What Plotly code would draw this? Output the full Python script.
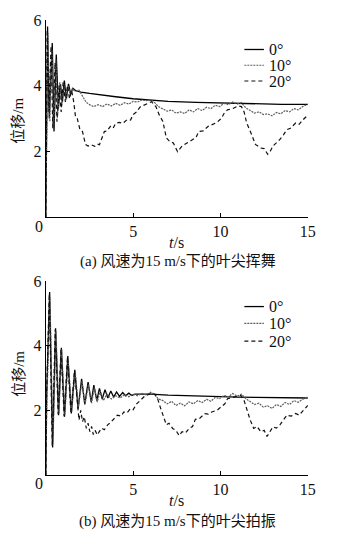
import plotly.graph_objects as go

# ---------------- data ----------------
SERIES_NAMES = ["0°", "10°", "20°"]
X_TICKS = [5, 10, 15]
Y_TICKS = [2, 4, 6]

# (a) tip flap-wise ("挥舞") displacement, wind speed 15 m/s
T_A0 = [0, 0.1, 0.2, 0.37, 0.47, 0.6, 0.72, 0.84, 0.95, 1.06,
        1.18, 1.3, 1.42, 1.55, 1.7, 2.0, 2.5, 3.0, 4.0, 5.0,
        6.0, 7.0, 8.6, 10.0, 12.0, 13.5, 15.0]
Y_A0 = [0, 5.8, 3.0, 5.3, 2.6, 4.95, 3.3, 4.05, 3.5, 4.15,
        3.6, 4.05, 3.75, 3.92, 3.85, 3.8, 3.76, 3.72, 3.66, 3.6,
        3.55, 3.52, 3.49, 3.47, 3.45, 3.43, 3.43]

T_A10 = [0, 0.12, 0.23, 0.34, 0.45, 0.57, 0.68, 0.8, 0.92, 1.03,
         1.15, 1.27, 1.4, 1.52, 1.7, 1.9, 2.1, 2.3, 2.5, 2.75,
         3.0, 3.25, 3.5, 3.75, 4.0, 4.25, 4.5, 4.75, 5.0, 5.25,
         5.5, 5.75, 6.0, 6.2, 6.45, 6.7, 6.95, 7.2, 7.45, 7.7,
         7.95, 8.2, 8.45, 8.7, 8.95, 9.2, 9.45, 9.7, 9.95, 10.2,
         10.45, 10.7, 10.95, 11.2, 11.45, 11.7, 11.95, 12.2, 12.45, 12.7,
         12.95, 13.2, 13.45, 13.7, 13.95, 14.2, 14.45, 14.7, 15.0]
Y_A10 = [0, 5.6, 2.9, 5.1, 2.8, 4.8, 3.1, 4.1, 3.4, 4.05,
         3.55, 4.0, 3.7, 3.9, 3.82, 3.86, 3.68, 3.5, 3.42, 3.36,
         3.42, 3.36, 3.44, 3.38, 3.46, 3.4, 3.48, 3.44, 3.52, 3.5,
         3.56, 3.54, 3.57, 3.5, 3.36, 3.28, 3.22, 3.26, 3.16, 3.2,
         3.15, 3.26, 3.2, 3.3, 3.24, 3.34, 3.3, 3.4, 3.36, 3.46,
         3.42, 3.5, 3.44, 3.48, 3.32, 3.24, 3.16, 3.2, 3.12, 3.14,
         3.08, 3.18, 3.14, 3.24, 3.2, 3.3, 3.26, 3.36, 3.43]

T_A20 = [0, 0.08, 0.18, 0.3, 0.4, 0.53, 0.64, 0.76, 0.88, 0.99,
         1.12, 1.24, 1.36, 1.48, 1.6, 1.7, 1.8, 1.95, 2.1, 2.27,
         2.42, 2.6, 2.8, 2.95, 3.07, 3.2, 3.35, 3.5, 3.7, 3.85,
         4.0, 4.2, 4.4, 4.65, 4.85, 5.0, 5.2, 5.4, 5.6, 5.8,
         6.05, 6.3, 6.5, 6.7, 6.9, 7.07, 7.3, 7.54, 7.8, 8.0,
         8.2, 8.4, 8.6, 8.75, 9.0, 9.3, 9.5, 9.8, 10.06, 10.2,
         10.4, 10.7, 11.0, 11.2, 11.35, 11.5, 11.75, 12.0, 12.3, 12.5,
         12.7, 12.85, 13.0, 13.2, 13.4, 13.6, 13.8, 14.0, 14.3, 14.5,
         14.7, 15.0]
Y_A20 = [0, 5.7, 3.2, 5.2, 2.7, 4.7, 2.9, 4.0, 3.2, 4.1,
         3.5, 4.0, 3.6, 3.85, 3.5, 3.05, 3.0, 2.67, 2.6, 2.21,
         2.16, 2.2, 2.15, 2.22, 2.2, 2.4, 2.6, 2.62, 2.76, 2.7,
         2.85, 2.88, 2.85, 2.96, 2.95, 3.12, 3.2, 3.35, 3.41, 3.45,
         3.51, 3.36, 3.1, 2.91, 2.41, 2.31, 2.25, 1.99, 2.16, 2.22,
         2.28, 2.36, 2.42, 2.6, 2.62, 2.76, 2.8, 2.88, 3.01, 3.15,
         3.26, 3.3, 3.38, 3.36, 3.2, 2.86, 2.55, 2.21, 2.1, 2.08,
         1.91, 2.0, 2.16, 2.25, 2.36, 2.5, 2.66, 2.7, 2.86, 2.82,
         2.95, 3.1]

# (b) tip edge-wise ("拍振") displacement, wind speed 15 m/s
T_B0 = [0, 0.05, 0.22, 0.39, 0.56, 0.73, 0.89, 1.07, 1.26, 1.46,
        1.66, 1.85, 2.05, 2.23, 2.42, 2.6, 2.75, 2.92, 3.07, 3.23,
        3.39, 3.55, 3.72, 3.88, 4.05, 4.22, 4.4, 4.57, 4.75, 4.92,
        5.1, 6.0, 7.0, 8.0, 9.0, 10.0, 11.0, 12.0, 13.0, 14.0,
        15.0]
Y_B0 = [0, 2.5, 5.66, 0.85, 4.54, 1.85, 3.93, 1.8, 3.68, 1.9,
        3.25, 2.05, 2.97, 2.18, 2.87, 2.25, 2.78, 2.3, 2.68, 2.35,
        2.64, 2.38, 2.6, 2.41, 2.57, 2.43, 2.55, 2.45, 2.53, 2.46,
        2.5, 2.5, 2.47, 2.45, 2.43, 2.42, 2.41, 2.4, 2.39, 2.38,
        2.38]

T_B10 = [0, 0.06, 0.24, 0.41, 0.58, 0.75, 0.91, 1.09, 1.28, 1.48,
         1.68, 1.87, 2.07, 2.25, 2.44, 2.62, 2.78, 2.95, 3.1, 3.3,
         3.5, 3.75, 4.0, 4.25, 4.5, 4.75, 5.0, 5.25, 5.5, 5.75,
         6.0, 6.2, 6.45, 6.7, 6.95, 7.2, 7.45, 7.7, 7.95, 8.2,
         8.45, 8.7, 8.95, 9.2, 9.45, 9.7, 9.95, 10.2, 10.45, 10.7,
         10.95, 11.2, 11.45, 11.7, 11.95, 12.2, 12.45, 12.7, 12.95, 13.2,
         13.45, 13.7, 13.95, 14.2, 14.45, 14.7, 15.0]
Y_B10 = [0, 2.3, 5.5, 0.95, 4.45, 1.9, 3.88, 1.85, 3.6, 1.95,
         3.2, 2.1, 2.9, 2.2, 2.8, 2.22, 2.7, 2.25, 2.6, 2.3,
         2.5, 2.35, 2.45, 2.38, 2.48, 2.42, 2.5, 2.45, 2.52, 2.48,
         2.56, 2.5, 2.35, 2.3, 2.2, 2.28, 2.15, 2.22, 2.14, 2.26,
         2.2, 2.3, 2.24, 2.34, 2.28, 2.4, 2.36, 2.46, 2.42, 2.52,
         2.44, 2.5, 2.36, 2.26, 2.18, 2.22, 2.1, 2.14, 2.06, 2.18,
         2.12, 2.24, 2.18, 2.3, 2.25, 2.34, 2.42]

T_B20 = [0, 0.04, 0.2, 0.37, 0.54, 0.71, 0.87, 1.05, 1.24, 1.44,
         1.64, 1.8, 1.9, 2.0, 2.1, 2.2, 2.32, 2.42, 2.52, 2.62,
         2.72, 2.82, 2.95, 3.07, 3.2, 3.35, 3.54, 3.7, 3.9, 4.1,
         4.3, 4.47, 4.65, 4.84, 5.0, 5.2, 5.4, 5.68, 5.85, 6.05,
         6.25, 6.4, 6.55, 6.7, 6.9, 7.05, 7.26, 7.45, 7.63, 7.8,
         8.0, 8.2, 8.4, 8.56, 8.8, 9.1, 9.3, 9.5, 9.8, 10.06,
         10.25, 10.4, 10.7, 10.9, 11.17, 11.35, 11.54, 11.7, 11.9, 12.1,
         12.3, 12.5, 12.66, 12.85, 13.0, 13.2, 13.4, 13.6, 13.8, 14.05,
         14.3, 14.5, 14.75, 15.0]
Y_B20 = [0, 2.4, 5.6, 0.9, 4.5, 1.88, 3.9, 1.82, 3.64, 1.9,
         3.22, 2.3, 1.7, 2.0, 1.65, 1.8, 1.44, 1.6, 1.34, 1.5,
         1.25, 1.38, 1.24, 1.35, 1.45, 1.4, 1.55, 1.62, 1.75, 1.85,
         1.82, 1.95, 1.92, 2.05, 2.02, 2.2, 2.3, 2.45, 2.48, 2.53,
         2.5, 2.36, 2.1, 1.85, 1.55, 1.6, 1.44, 1.38, 1.22, 1.34,
         1.3, 1.44, 1.5, 1.72, 1.75, 1.9, 1.88, 1.95, 2.0, 2.12,
         2.2, 2.36, 2.4, 2.42, 2.46, 2.3, 1.95, 1.7, 1.44, 1.5,
         1.34, 1.38, 1.19, 1.35, 1.49, 1.45, 1.55, 1.7, 1.85, 1.82,
         1.9, 1.85, 2.0, 2.15]

CAPTIONS = ["(a) 风速为15 m/s下的叶尖挥舞", "(b) 风速为15 m/s下的叶尖拍振"]
Y_TITLE = "位移/m"
X_TITLE = "<i>t</i>/s"

# ---------------- styling ----------------
# the page body has an 8px default margin, so the figure is drawn 8px smaller
# and all window-pixel positions are shifted by that offset
OFF = 8
W, H = 352 - OFF, 540 - OFF
SERIF = "Liberation Serif, Noto Sans CJK SC, serif"
TXT = "#111111"
STYLES = [
    dict(color="#000000", width=1.3, dash="solid"),
    dict(color="#5e5e5e", width=1.2, dash="2px,1px"),
    dict(color="#111111", width=1.2, dash="4px,3px"),
]

def px_x(p):
    return (p - OFF) / W

def px_y(p):
    return 1 - (p - OFF) / H

X_DOM = [px_x(46.7), px_x(315)]
PANELS = [
    dict(ydom=[px_y(212), px_y(12)], xa="x", ya="y",
         data=[(T_A0, Y_A0), (T_A10, Y_A10), (T_A20, Y_A20)],
         xt=238, cap=257, yt=114, zero=222, leg=[42, 58, 74]),
    dict(ydom=[px_y(474), px_y(277)], xa="x2", ya="y2",
         data=[(T_B0, Y_B0), (T_B10, Y_B10), (T_B20, Y_B20)],
         xt=500, cap=521, yt=371, zero=483, leg=[303, 320, 338]),
]

fig = go.Figure()
annotations = []
shapes = []
for pi, p in enumerate(PANELS):
    for si, (t, y) in enumerate(p["data"]):
        fig.add_trace(go.Scatter(
            x=t, y=y, mode="lines", name=SERIES_NAMES[si],
            line=STYLES[si], xaxis=p["xa"], yaxis=p["ya"],
            showlegend=False, hoverinfo="skip"))
    annotations += [
        dict(text=X_TITLE, x=px_x(181), y=px_y(p["xt"]), xref="paper", yref="paper",
             showarrow=False, xanchor="center", yanchor="middle",
             font=dict(family=SERIF, size=16, color=TXT)),
        dict(text=CAPTIONS[pi], x=px_x(182), y=px_y(p["cap"]), xref="paper", yref="paper",
             showarrow=False, xanchor="center", yanchor="middle",
             font=dict(family=SERIF, size=15, color=TXT)),
        dict(text=Y_TITLE, x=px_x(18.5), y=px_y(p["yt"]), xref="paper", yref="paper",
             showarrow=False, xanchor="center", yanchor="middle", textangle=-90,
             font=dict(family=SERIF, size=15, color=TXT)),
        dict(text="0", x=px_x(39.5), y=px_y(p["zero"]), xref="paper", yref="paper",
             showarrow=False, xanchor="center", yanchor="middle",
             font=dict(family=SERIF, size=16, color=TXT)),
    ]
    # legend drawn by hand so the rows can be as tight as in the reference
    for si, ly in enumerate(p["leg"]):
        shapes.append(dict(type="line", xref="paper", yref="paper",
                           x0=px_x(250), x1=px_x(270), y0=px_y(ly), y1=px_y(ly),
                           line=STYLES[si]))
        annotations.append(dict(text=SERIES_NAMES[si], x=px_x(273), y=px_y(ly),
                                xref="paper", yref="paper", showarrow=False,
                                xanchor="left", yanchor="middle", height=15,
                                font=dict(family=SERIF, size=16, color=TXT)))

axis_common = dict(showline=True, linecolor="#000000", linewidth=1, showgrid=False,
                   zeroline=False, ticks="inside", ticklen=4, tickcolor="#000000",
                   tickwidth=1, tickfont=dict(family=SERIF, size=16, color=TXT))

fig.update_layout(
    width=W, height=H, margin=dict(l=0, r=0, t=0, b=0),
    paper_bgcolor="white", plot_bgcolor="white",
    showlegend=False,
    xaxis=dict(domain=X_DOM, range=[0, 15], tickvals=X_TICKS, anchor="y", **axis_common),
    yaxis=dict(domain=PANELS[0]["ydom"], range=[0, 6], tickvals=Y_TICKS, anchor="x", **axis_common),
    xaxis2=dict(domain=X_DOM, range=[0, 15], tickvals=X_TICKS, anchor="y2", **axis_common),
    yaxis2=dict(domain=PANELS[1]["ydom"], range=[0, 6], tickvals=Y_TICKS, anchor="x2", **axis_common),
    annotations=annotations,
    shapes=shapes,
)

fig.write_html("out.html")
